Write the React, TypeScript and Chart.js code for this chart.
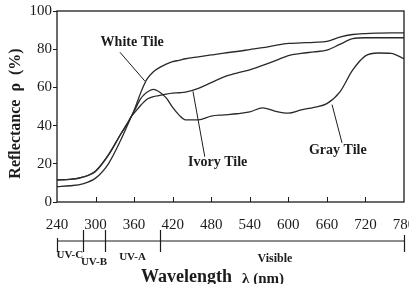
import React, { useEffect, useRef } from 'react';
import { Chart, registerables } from 'chart.js';

Chart.register(...registerables);

// ---- data ----
const wavelengths = [240, 260, 280, 300, 320, 340, 350, 356, 360, 370, 375, 380, 390, 400, 410, 420, 430, 440, 460, 480, 500, 520, 540, 560, 580, 600, 620, 640, 660, 680, 700, 720, 740, 760, 780];
const whiteTile = [8, 8.5, 9.5, 12.5, 20, 33, 40.5, 45, 48, 57, 61, 64.3, 68.2, 70.5, 72.2, 73.5, 74.2, 75, 76, 77, 78, 78.8, 79.8, 80.8, 82, 83, 83.3, 83.6, 84.1, 86.3, 87.7, 88.2, 88.4, 88.5, 88.5];
const ivoryTile = [11.6, 11.8, 13, 16.3, 24.7, 36, 41.4, 45, 46.5, 50.5, 52.3, 53.8, 55.2, 55.8, 56.5, 57, 57.2, 57.5, 59.5, 62.5, 65.5, 67.5, 69.2, 71.5, 74, 76.7, 77.8, 78.6, 79.5, 82.5, 85.5, 86, 86, 86, 86];
const grayTile = [11.6, 11.8, 13, 16, 24.5, 36, 41.4, 45, 47.5, 54, 56, 57.5, 59, 57.5, 54.5, 49.5, 45.5, 43, 43, 45, 45.6, 46.2, 47.2, 49.3, 47.5, 46.5, 48.2, 49.6, 51.5, 57.5, 69, 76.5, 78, 77.8, 75];

const xTicksMin = 240;
const xTicksMax = 780;
const xTickStep = 60;
const yTicksMin = 0;
const yTicksMax = 100;
const yTickStep = 20;

// spectral bands under the axis
const bandEdges = [240, 280, 315, 400, 780];
const bandNames = ['UV-C', 'UV-B', 'UV-A', 'Visible'];

// curve annotations (data coordinates)
const annotationTexts = ['White Tile', 'Ivory Tile', 'Gray Tile'];
const annotationAt = [[357, 83.7], [490, 20.5], [677, 26.8]];
const leaderStart = [[338, 78.4], [451.6, 57.9], [668, 51]];
const leaderEnd = [[377, 63.2], [470, 23.7], [683.5, 31]];

const xTitle = 'Wavelength';
const xTitleUnit = 'λ (nm)';
const yTitle = 'Reflectance  ρ  (%)';

const SERIF = "'Liberation Serif', 'Times New Roman', serif";
const INK = '#1c1c1c';

const decorPlugin = {
  id: 'decor',
  afterDraw(chart: any) {
    const { ctx, chartArea, scales } = chart;
    const x = scales.x;
    const y = scales.y;
    ctx.save();
    ctx.strokeStyle = INK;
    ctx.fillStyle = INK;

    // frame
    ctx.lineWidth = 1.3;
    ctx.strokeRect(chartArea.left, chartArea.top, chartArea.right - chartArea.left, chartArea.bottom - chartArea.top);

    // inward x ticks
    ctx.lineWidth = 1;
    for (let v = xTicksMin + xTickStep; v < xTicksMax; v += xTickStep) {
      const px = Math.round(x.getPixelForValue(v)) + 0.5;
      ctx.beginPath();
      ctx.moveTo(px, chartArea.bottom);
      ctx.lineTo(px, chartArea.bottom - 5);
      ctx.stroke();
    }

    // band axis
    const bandY = chartArea.bottom + 39;
    ctx.lineWidth = 1.2;
    ctx.beginPath();
    ctx.moveTo(x.getPixelForValue(bandEdges[0]), bandY);
    ctx.lineTo(x.getPixelForValue(bandEdges[bandEdges.length - 1]), bandY);
    ctx.stroke();
    bandEdges.forEach((e, i) => {
      const px = Math.round(x.getPixelForValue(e)) + 0.5;
      const top = i === 0 ? bandY - 3 : i === bandEdges.length - 1 ? bandY - 6 : bandY - 11;
      ctx.beginPath();
      ctx.moveTo(px, top);
      ctx.lineTo(px, bandY + 11);
      ctx.stroke();
    });
    const bandLabelDy = [14, 21, 16, 18];
    ctx.textAlign = 'center';
    ctx.textBaseline = 'middle';
    bandNames.forEach((n, i) => {
      const cx = (x.getPixelForValue(bandEdges[i]) + x.getPixelForValue(bandEdges[i + 1])) / 2 + (i === 3 ? -7 : 0);
      ctx.font = `bold ${i === 3 ? 12 : 11}px ${SERIF}`;
      ctx.fillText(n, cx, bandY + bandLabelDy[i]);
    });

    // x title
    ctx.textAlign = 'left';
    ctx.textBaseline = 'alphabetic';
    ctx.font = `bold 18px ${SERIF}`;
    const w1 = ctx.measureText(xTitle).width;
    ctx.font = `bold 15px ${SERIF}`;
    const w2 = ctx.measureText(xTitleUnit).width;
    const gap = 10;
    const total = w1 + gap + w2;
    const cx = (chartArea.left + chartArea.right) / 2 - 18;
    const baseY = 282;
    ctx.font = `bold 18px ${SERIF}`;
    ctx.fillText(xTitle, cx - total / 2, baseY);
    ctx.font = `bold 15px ${SERIF}`;
    ctx.fillText(xTitleUnit, cx - total / 2 + w1 + gap, baseY + 1);

    // y title
    ctx.save();
    ctx.translate(16, (chartArea.top + chartArea.bottom) / 2 + 7);
    ctx.rotate(-Math.PI / 2);
    ctx.textAlign = 'center';
    ctx.textBaseline = 'middle';
    ctx.font = `bold 16px ${SERIF}`;
    ctx.fillText(yTitle, 0, 0);
    ctx.restore();

    // annotations
    ctx.lineWidth = 1;
    ctx.font = `bold 14px ${SERIF}`;
    ctx.textAlign = 'center';
    ctx.textBaseline = 'middle';
    annotationTexts.forEach((t, i) => {
      ctx.fillText(t, x.getPixelForValue(annotationAt[i][0]), y.getPixelForValue(annotationAt[i][1]));
      ctx.beginPath();
      ctx.moveTo(x.getPixelForValue(leaderStart[i][0]), y.getPixelForValue(leaderStart[i][1]));
      ctx.lineTo(x.getPixelForValue(leaderEnd[i][0]), y.getPixelForValue(leaderEnd[i][1]));
      ctx.stroke();
    });

    ctx.restore();
  },
};

function makeSeries(label: string, values: number[]) {
  return {
    label,
    data: wavelengths.map((w, i) => ({ x: w, y: values[i] })),
    borderColor: '#2a2a2a',
    borderWidth: 1.3,
    pointRadius: 0,
    fill: false,
    tension: 0.4,
    cubicInterpolationMode: 'monotone' as const,
  };
}

export default function App() {
  const canvasRef = useRef<HTMLCanvasElement | null>(null);

  useEffect(() => {
    const canvas = canvasRef.current;
    if (!canvas) return;
    const chart = new Chart(canvas, {
      type: 'line',
      data: {
        datasets: [
          makeSeries('White Tile', whiteTile),
          makeSeries('Ivory Tile', ivoryTile),
          makeSeries('Gray Tile', grayTile),
        ],
      },
      options: {
        responsive: false,
        animation: false,
        events: [],
        layout: { padding: { left: 0, right: 5, top: 11, bottom: 0 } },
        plugins: {
          legend: { display: false },
          tooltip: { enabled: false },
        },
        scales: {
          x: {
            type: 'linear',
            min: xTicksMin,
            max: xTicksMax,
            grid: { display: false },
            border: { display: false },
            ticks: {
              stepSize: xTickStep,
              padding: 6,
              color: INK,
              font: { family: SERIF, size: 15 },
              maxRotation: 0,
              autoSkip: false,
            },
            afterFit: (s: any) => {
              s.height = 82;
              s.paddingLeft = 0;
              s.paddingRight = 0;
            },
          },
          y: {
            type: 'linear',
            min: yTicksMin,
            max: yTicksMax,
            grid: { drawOnChartArea: false, tickLength: 4, color: INK, lineWidth: 1 },
            border: { display: false },
            ticks: {
              stepSize: yTickStep,
              padding: 1,
              color: INK,
              font: { family: SERIF, size: 15 },
            },
            afterFit: (s: any) => {
              s.width = 57;
              s.paddingTop = 0;
              s.paddingBottom = 0;
            },
          },
        },
      },
      plugins: [decorPlugin],
    });
    return () => chart.destroy();
  }, []);

  return (
    <div style={{ position: 'fixed', left: 0, top: 0, width: 409, height: 284, background: '#fff' }}>
      <canvas ref={canvasRef} width={409} height={284} style={{ display: 'block' }} />
    </div>
  );
}
